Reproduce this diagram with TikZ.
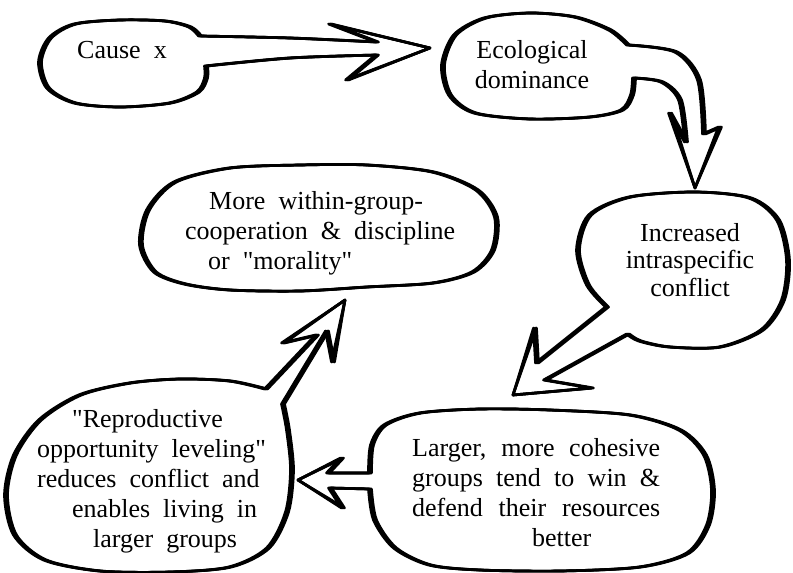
\documentclass[tikz,border=0pt]{standalone}
\usepackage{fontspec}
\setmainfont{Liberation Serif}[Ligatures=TeXOff]
\newcommand\wsp{\spaceskip 13pt plus 4pt minus 3pt\relax}
\tikzset{
  txt/.style={font=\fontsize{26}{30}\selectfont\wsp, inner sep=0pt},
  pen/.style={line width=2.7pt, line join=round, line cap=round},
}
\newcommand\penpath[1]{\foreach \dx in {-1.5,0,1.5}{\draw[pen,xshift=\dx pt] #1;}}
\begin{document}
\begin{tikzpicture}[x=1pt,y=-1pt]
\useasboundingbox (0,0) rectangle (793,573);
% arrow tips
\coordinate (tipA) at (430,48);
\coordinate (tipB) at (695,188);
\coordinate (tipC) at (513,395);
\coordinate (tipD) at (298,480);
\coordinate (tipE) at (345,300);
% blob 1 + arrow to Ecological
\penpath{plot[smooth] coordinates {(200,36) (190,27) (165,21) (120,20) (75,24) (50,38) (40,62) (48,88) (75,103) (120,107) (170,103) (198,92) (206,78) (206,66)}
  -- plot[smooth] coordinates {(206,66) (290,58) (377,55)} -- (347,80) -- (tipA) -- (330,24) -- (377,42)
  -- plot[smooth] coordinates {(377,42) (290,38) (200,36)} -- cycle}
% blob 2 + arrow to Increased
\penpath{plot[smooth] coordinates {(628,45) (610,30) (575,17) (530,13) (485,18) (455,35) (443,65) (450,95) (475,113) (530,119) (590,117) (622,110) (632,95) (634,78)}
  -- plot[smooth] coordinates {(634,78) (662,82) (680,100) (686,142)} -- (670,113) -- (tipB) -- (720,127) -- (704,134)
  -- plot[smooth] coordinates {(704,134) (699,80) (676,52) (628,45)} -- cycle}
% blob 3 + arrow to Larger
\penpath{plot[smooth] coordinates {(607,307) (588,285) (578,250) (590,215) (630,197) (695,192) (750,198) (778,220) (788,260) (783,300) (762,330) (720,347) (670,347) (640,341) (628,334)}
  -- (545,380) -- (592,388) -- (tipC) -- (535,328) -- (537,363) -- cycle}
% blob 4 + arrow to Reproductive
\penpath{plot[smooth] coordinates {(370,473) (372,445) (385,425) (420,413) (480,409) (550,410) (630,415) (680,430) (705,455) (713,490) (708,525) (688,553) (640,567) (560,571) (480,570) (430,565) (395,548) (375,520) (370,489)}
  -- (330,488) -- (343,508) -- (tipD) -- (342,458) -- (328,473) -- cycle}
% blob 5 + arrow to More
\penpath{plot[smooth] coordinates {(266,389) (230,381) (180,379) (130,383) (80,395) (40,420) (15,455) (6,495) (15,535) (45,560) (100,571) (170,572) (230,567) (268,548) (287,512) (292,470) (288,430) (283,404)}
  -- (327,331) -- (333,362) -- (tipE) -- (283,343) -- (317,335) -- cycle}
% blob 6
\penpath{plot[smooth cycle] coordinates {(300,165) (367,165) (433,172) (477,190) (496,217) (493,250) (473,272) (433,283) (367,287) (300,291) (230,290) (185,284) (155,272) (141,245) (148,210) (175,182) (230,168)}}
% texts
\node[txt] (cause) at (122,50) {Cause x};
\node[txt, align=center] (eco) at (532,65) {Ecological\\dominance};
\node[txt, align=center, font=\fontsize{26}{27.5}\selectfont\wsp] (incr) at (690,260) {Increased\\intraspecific\\conflict};
\node[txt, align=left, anchor=west] (larger) at (412,493) {\makebox[248pt][s]{Larger, more cohesive}\\\makebox[248pt][s]{groups tend to win \&}\\\makebox[248pt][s]{defend their resources}\\\hspace*{120pt}better};
\node[txt, align=left, anchor=west] (repro) at (37,481) {\hspace*{35pt}"Reproductive\\opportunity leveling"\\reduces conflict and\\\hspace*{35pt}enables living in\\\hspace*{56pt}larger groups};
\node[txt, align=left, anchor=west] (more) at (185,233) {\hspace*{24pt}More within-group-\\cooperation \& discipline\\\hspace*{23pt}or "morality"};
\end{tikzpicture}
\end{document}
